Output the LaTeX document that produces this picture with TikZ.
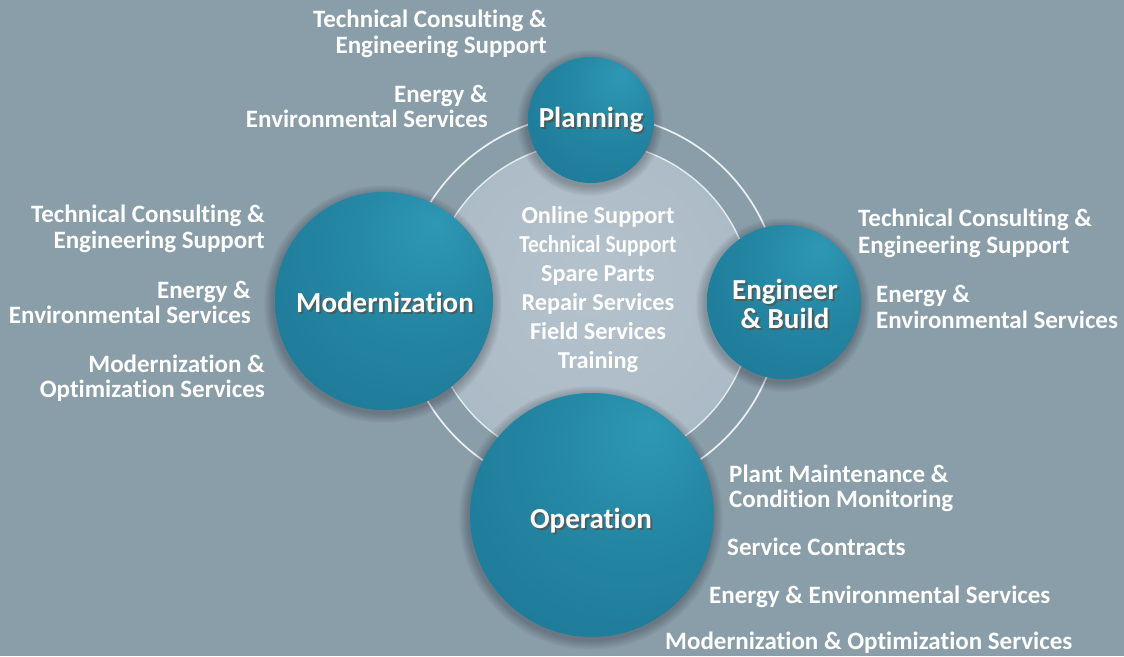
\documentclass[tikz,border=0pt]{standalone}
\usepackage{fontspec}
\usepackage{graphicx}
\setmainfont{Carlito}[Ligatures={NoCommon}]
\definecolor{bgc}{RGB}{138,158,170}
\definecolor{sphhl}{RGB}{46,152,180}
\definecolor{sphmid}{RGB}{36,135,164}
\definecolor{sphedge}{RGB}{28,116,148}
\definecolor{sphdark}{RGB}{24,104,136}
\definecolor{diskc}{RGB}{180,194,204}
\definecolor{diskm}{RGB}{168,184,196}
\definecolor{diske}{RGB}{150,168,181}
\definecolor{shtext}{RGB}{95,75,62}
\pgfdeclareradialshading{sphere}{\pgfpoint{12bp}{18bp}}{color(0bp)=(sphhl); color(18bp)=(sphmid); color(48bp)=(sphedge); color(72bp)=(sphdark)}
\pgfdeclareradialshading{disk}{\pgfpoint{0bp}{4bp}}{color(0bp)=(diskc); color(36bp)=(diskm); color(50bp)=(diske)}
\tikzset{
  ball/.style={circle, inner sep=0pt, minimum size=#1, shading=sphere, draw=none},
  ringline/.style={draw=white, line width=#1},
  lbl/.style={font=\fontsize{29}{33}\selectfont\bfseries, text=white, inner sep=0pt},
  lblsh/.style={font=\fontsize{29}{33}\selectfont\bfseries, text=shtext, opacity=0.7, inner sep=0pt},
  side/.style={font=\fontsize{25}{28}\selectfont\bfseries, text=white, inner sep=0pt},
  ctr/.style={font=\fontsize{24.3}{28}\selectfont\bfseries, text=white, inner sep=0pt, anchor=base},
}
\newcommand{\ballshadow}[3]{%
  \foreach \k in {1,...,10}{%
    \fill[black, opacity=0.025] (#1-1,#2+3) circle[radius=#3+11-\k];
  }%
}
\begin{document}
\begin{tikzpicture}[x=1pt,y=-1pt]
\fill[bgc] (0,0) rectangle (1124,656);
\useasboundingbox (0,0) rectangle (1124,656);
% central disk and rings
\node[circle, minimum size=324pt, inner sep=0pt, shading=disk] (disk) at (591,304) {};
\node[circle, minimum size=380pt, inner sep=0pt, ringline=1.7pt, draw opacity=0.85] (outerring) at (591,304) {};
\node[circle, minimum size=324pt, inner sep=0pt, ringline=1.4pt, draw opacity=0.75] (innerring) at (591,304) {};
% shadows
\ballshadow{591}{120}{63}
\ballshadow{384}{301}{109}
\ballshadow{784}{302}{77}
\ballshadow{592}{515}{122}
% spheres
\node[ball=126pt] (planning) at (591,120) {};
\node[ball=218pt] (modern) at (384,301) {};
\node[ball=154pt] (engineer) at (784,302) {};
\node[ball=244pt] (operation) at (592,515) {};
% sphere labels
\node[lblsh, anchor=base] (plsh) at (593,129) {Planning};
\node[lbl, anchor=base] (pl) at (591,127) {Planning};
\node[lblsh, anchor=base] (mosh) at (387,314) {Modernization};
\node[lbl, anchor=base] (mo) at (385,312) {Modernization};
\node[lblsh, anchor=base] (ensh) at (787,301) {Engineer};
\node[lbl, anchor=base] (en) at (785,299) {Engineer};
\node[lblsh, anchor=base] (bush) at (787,330) {\& Build};
\node[lbl, anchor=base] (bu) at (785,328) {\& Build};
\node[lblsh, anchor=base] (opsh) at (593,530) {Operation};
\node[lbl, anchor=base] (op) at (591,528) {Operation};
% center list
\node[ctr] (c1) at (598,223) {Online Support};
\node[ctr] (c2) at (598,252) {\scalebox{0.88}[1]{Technical Support}};
\node[ctr] (c3) at (598,281) {Spare Parts};
\node[ctr] (c4) at (598,310) {Repair Services};
\node[ctr] (c5) at (598,339) {Field Services};
\node[ctr] (c6) at (598,368) {Training};
% top group
\node[side, anchor=base east] (t1) at (547,27) {Technical Consulting \&};
\node[side, anchor=base east] (t2) at (547,53) {Engineering Support};
\node[side, anchor=base east] (t3) at (488,102) {Energy \&};
\node[side, anchor=base east] (t4) at (488,127) {Environmental Services};
% left group
\node[side, anchor=base east] (l1) at (265,222) {Technical Consulting \&};
\node[side, anchor=base east] (l2) at (265,248) {Engineering Support};
\node[side, anchor=base east] (l3) at (251,298) {Energy \&};
\node[side, anchor=base east] (l4) at (251,323) {Environmental Services};
\node[side, anchor=base east] (l5) at (265,372) {Modernization \&};
\node[side, anchor=base east] (l6) at (265,397) {Optimization Services};
% right group
\node[side, anchor=base west] (r1) at (858,226) {Technical Consulting \&};
\node[side, anchor=base west] (r2) at (858,253) {Engineering Support};
\node[side, anchor=base west] (r3) at (876,302) {Energy \&};
\node[side, anchor=base west] (r4) at (876,328) {Environmental Services};
% bottom group
\node[side, anchor=base west] (b1) at (729,482) {Plant Maintenance \&};
\node[side, anchor=base west] (b2) at (729,507) {Condition Monitoring};
\node[side, anchor=base west] (b3) at (727,555) {Service Contracts};
\node[side, anchor=base west] (b4) at (709,603) {Energy \& Environmental Services};
\node[side, anchor=base west] (b5) at (665,649) {Modernization \& Optimization Services};
\end{tikzpicture}
\end{document}
